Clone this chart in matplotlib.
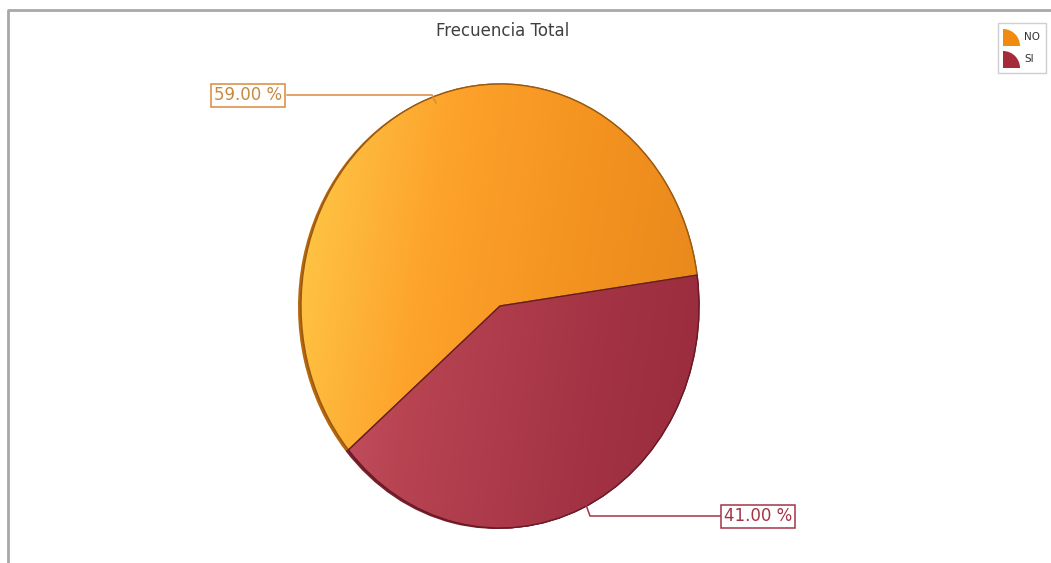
import numpy as np
import matplotlib
matplotlib.use("Agg")
import matplotlib.pyplot as plt
from matplotlib.patches import Wedge, Rectangle
from matplotlib.colors import LinearSegmentedColormap

# Data
categories = ["NO", "SI"]
percentages = [59.0, 41.0]
title = "Frecuencia Total"

W, H = 1051, 563
fig = plt.figure(figsize=(W / 100, H / 100), dpi=100)
fig.patch.set_facecolor("white")

# Pie geometry in pixels (an upright ellipse)
cx, cy = 500, 306
rx, ry = 199, 222

ax = fig.add_axes([0, 0, 1, 1])
ax.axis("off")

# overlay axes in pixel coordinates (y down) for frame, labels, legend
ov = fig.add_axes([0, 0, 1, 1], zorder=5)
ov.set_xlim(0, W)
ov.set_ylim(H, 0)
ov.axis("off")
ov.patch.set_alpha(0)

# chart frame
ov.plot([8, 8, W], [H, 10, 10], color="#a8a8a8", lw=2, solid_capstyle="butt")

start = 8
base = ["#f7941d", "#b23e50"]
rim = ["#b8660c", "#7a1f2e"]
edge = ["#9a5a10", "#6a1a26"]
grads = [["#ffca48", "#fda22b", "#f3921f", "#e6871c"],
         ["#d05e70", "#b84452", "#a63546", "#982b3c"]]

# thickness rim drawn behind the pie, slightly offset to the left
ax.pie(percentages, startangle=start, counterclock=True, colors=rim,
       radius=1.0, center=(-3 / rx, -1 / ry), wedgeprops=dict(linewidth=0))

wedges, _ = ax.pie(percentages, startangle=start, counterclock=True,
                   colors=base, radius=1.0,
                   wedgeprops=dict(linewidth=1.0))
for w, ec in zip(wedges, edge):
    w.set_edgecolor(ec)

ax.set_aspect("auto")

# shaded fill of each wedge
xs = np.linspace(0, 1, 300)
ys = np.linspace(0, 1, 300)
X, Y = np.meshgrid(xs, ys)
T = np.clip(0.85 * X + 0.15 * Y, 0, 1)
for w, g in zip(wedges, grads):
    cmap = LinearSegmentedColormap.from_list("g", g)
    im = ax.imshow(T, cmap=cmap, extent=(-1, 1, -1, 1), origin="upper",
                   interpolation="bilinear", zorder=w.get_zorder() + 0.1,
                   aspect="auto")
    im.set_clip_path(w)
    outline = Wedge(w.center, w.r, w.theta1, w.theta2, facecolor="none",
                    edgecolor=w.get_edgecolor(), lw=1.0,
                    zorder=w.get_zorder() + 0.2)
    ax.add_patch(outline)

ax.set_xlim(-cx / rx, (W - cx) / rx)
ax.set_ylim(-(H - cy) / ry, cy / ry)

# title
ov.text(503, 31, title, ha="center", va="center", fontsize=12,
        color="#404040", family="DejaVu Sans")

# value labels with leader lines
line_colors = ["#d98a3c", "#a33446"]
text_colors = ["#c8883f", "#a33446"]
lab_pos = [(248, 95), (758, 516)]
leaders = [([287, 432, 436], [95, 95, 103]),
           ([720, 590, 585], [516, 516, 502])]
for p, (lx, ly), (px, py), lc, tc in zip(percentages, lab_pos, leaders,
                                         line_colors, text_colors):
    ov.plot(px, py, color=lc, lw=1.1)
    ov.text(lx, ly, f"{p:.2f} %", ha="center", va="center", fontsize=12,
            color=tc, family="DejaVu Sans",
            bbox=dict(boxstyle="square,pad=0.15", facecolor="white",
                      edgecolor=lc, lw=1.1))

# legend
ov.add_patch(Rectangle((998, 23), 48, 50, facecolor="white",
                       edgecolor="#cfcfcf", lw=1))
leg_colors = ["#f08a10", "#a52a3a"]
for i, (name, c) in enumerate(zip(categories, leg_colors)):
    y0 = 29 + i * 22
    ov.add_patch(Wedge((1003, y0 + 17), 17, 270, 360, facecolor=c,
                       edgecolor="none"))
    ov.text(1024, y0 + 8, name, ha="left", va="center", fontsize=7.5,
            color="#333333", family="DejaVu Sans")

fig.savefig("out.png", dpi=100)
